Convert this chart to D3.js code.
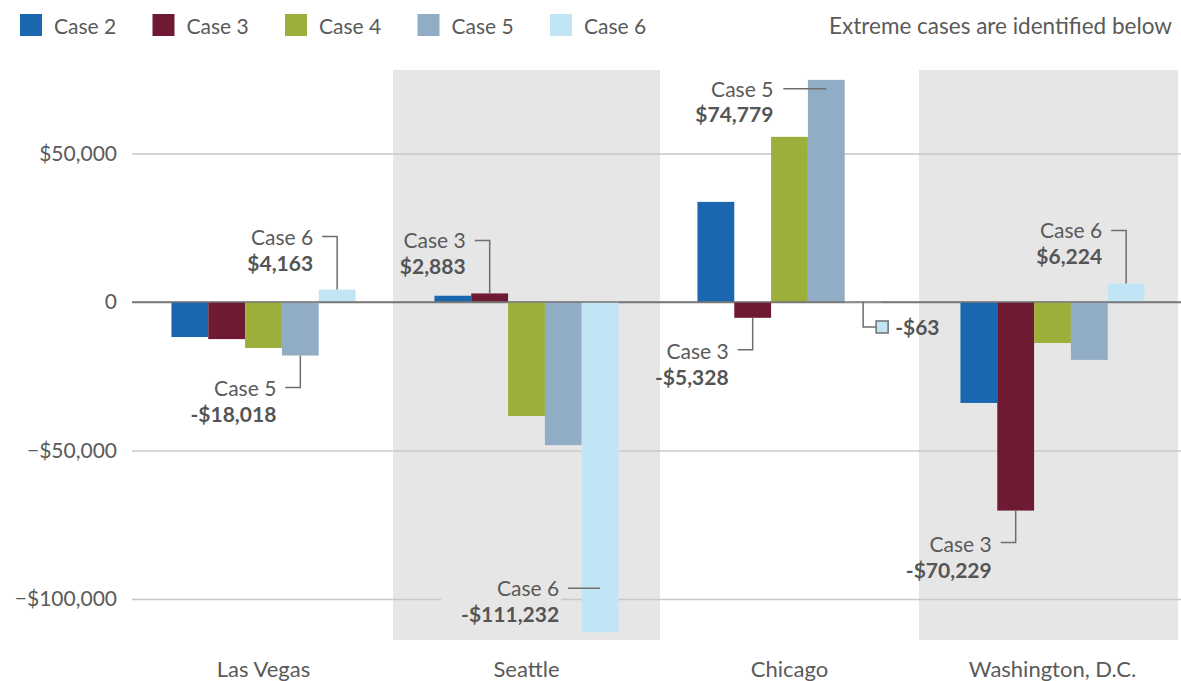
<!DOCTYPE html>
<html>
<head>
<meta charset="utf-8">
<script src="https://cdn.jsdelivr.net/npm/d3@7"></script>
<style>
  html, body { margin: 0; padding: 0; background: #fff; }
  svg { display: block; font-family: Lato, "Noto Sans", sans-serif; }
</style>
</head>
<body>
<svg id="chart" width="1181" height="681"></svg>
<script>
// ---------- data ----------
const cities = ["Las Vegas", "Seattle", "Chicago", "Washington, D.C."];
const cases = ["Case 2", "Case 3", "Case 4", "Case 5", "Case 6"];
const lasVegas   = [-11800, -12500, -15500, -18018, 4163];
const seattle    = [2100, 2883, -38400, -48200, -111232];
const chicago    = [33700, -5328, 55600, 74779, -63];
const washington = [-34000, -70229, -13800, -19500, 6224];
const seriesByCity = [lasVegas, seattle, chicago, washington];
const yTicks = [50000, 0, -50000, -100000];
const shadedCities = ["Seattle", "Washington, D.C."];
const noteText = "Extreme cases are identified below";
// annotated extreme cases: which bar, and how the callout attaches
const annotations = [
  { city: "Las Vegas", caseName: "Case 6", kind: "above" },
  { city: "Las Vegas", caseName: "Case 5", kind: "below" },
  { city: "Seattle", caseName: "Case 3", kind: "above" },
  { city: "Seattle", caseName: "Case 6", kind: "sideEnd" },
  { city: "Chicago", caseName: "Case 5", kind: "sideTop" },
  { city: "Chicago", caseName: "Case 3", kind: "below" },
  { city: "Chicago", caseName: "Case 6", kind: "swatch" },
  { city: "Washington, D.C.", caseName: "Case 3", kind: "below" },
  { city: "Washington, D.C.", caseName: "Case 6", kind: "above" }
];

// ---------- styles ----------
const colors = ["#1a67b0", "#6e1a33", "#9caf3a", "#91adc5", "#c2e5f6"];
const textColor = "#5a5a5a";
const leaderColor = "#6e6e6e";
const shadeColor = "#e6e6e6";
const fontSize = 21;

const svg = d3.select("#chart");
const plotLeft = 132, plotRight = 1181, plotTop = 70, plotBottom = 640;

const x = d3.scaleBand().domain(cities).range([132, 1184]).padding(0);
const xi = d3.scaleBand().domain(cases)
  .range([x.bandwidth() * 0.15, x.bandwidth() * 0.85]).padding(0);
const y = d3.scaleLinear().domain([-113800, 78100]).range([plotBottom, plotTop]);
const color = d3.scaleOrdinal().domain(cases).range(colors);

// shaded bands
svg.append("g").selectAll("rect")
  .data(shadedCities).join("rect")
  .attr("x", d => x(d) - 2)
  .attr("width", d => Math.min(x(d) + x.bandwidth() + 2, 1178) - (x(d) - 2))
  .attr("y", plotTop)
  .attr("height", plotBottom - plotTop)
  .attr("fill", shadeColor);

// y axis + gridlines
const fmtTick = v => v === 0 ? "0" : d3.format("$,")(v);
const yAxis = svg.append("g")
  .attr("transform", `translate(${plotLeft},0)`)
  .call(d3.axisLeft(y).tickValues(yTicks).tickFormat(fmtTick)
    .tickSize(-(plotRight - plotLeft)).tickPadding(15));
yAxis.select(".domain").remove();
yAxis.selectAll(".tick line")
  .attr("stroke", d => d === 0 ? "#777" : "#c8c8c8")
  .attr("stroke-width", 1.5);
yAxis.selectAll(".tick text")
  .attr("fill", textColor)
  .style("font-size", fontSize + "px")
  .style("font-family", "Lato, 'Noto Sans', sans-serif");

// bars
const flat = [];
cities.forEach((c, ci) => cases.forEach((k, ki) =>
  flat.push({ city: c, caseName: k, value: seriesByCity[ci][ki] })));
svg.append("g").selectAll("rect")
  .data(flat).join("rect")
  .attr("x", d => x(d.city) + xi(d.caseName))
  .attr("width", xi.bandwidth())
  .attr("y", d => y(Math.max(0, d.value)))
  .attr("height", d => Math.max(1, Math.abs(y(d.value) - y(0))))
  .attr("fill", d => color(d.caseName));

// zero line on top
svg.append("line")
  .attr("x1", plotLeft).attr("x2", plotRight)
  .attr("y1", y(0)).attr("y2", y(0))
  .attr("stroke", "#777").attr("stroke-width", 1.5);

// category labels
svg.append("g").selectAll("text")
  .data(cities).join("text")
  .attr("x", d => x(d) + x.bandwidth() / 2)
  .attr("y", 677)
  .attr("text-anchor", "middle")
  .attr("fill", textColor)
  .style("font-size", "22px")
  .text(d => d);

// legend
const leg = svg.append("g").selectAll("g")
  .data(cases).join("g")
  .attr("transform", (d, i) => `translate(${20 + i * 132.5},14)`);
leg.append("rect").attr("width", 22).attr("height", 22)
  .attr("fill", d => color(d));
leg.append("text").attr("x", 34).attr("y", 20)
  .attr("fill", textColor).style("font-size", fontSize + "px").text(d => d);

svg.append("text")
  .attr("x", 1172).attr("y", 34)
  .attr("text-anchor", "end")
  .attr("fill", textColor).style("font-size", "22.5px")
  .text(noteText);

// annotations
const fmtVal = v => (v < 0 ? "-" : "") + "$" + d3.format(",")(Math.abs(v));
const ag = svg.append("g");
function label(xEnd, yCase, yVal, caseName, value, bg) {
  if (bg) {
    ag.append("rect").attr("x", xEnd - 118).attr("y", yCase - 14)
      .attr("width", 120).attr("height", yVal - yCase + 16).attr("fill", bg);
  }
  ag.append("text").attr("x", xEnd).attr("y", yCase).attr("text-anchor", "end")
    .attr("fill", textColor).style("font-size", fontSize + "px").text(caseName);
  ag.append("text").attr("x", xEnd).attr("y", yVal).attr("text-anchor", "end")
    .attr("fill", "#555").style("font-size", fontSize + "px")
    .style("font-weight", "bold").text(fmtVal(value));
}
function path(pts) {
  ag.append("path").attr("d", d3.line()(pts)).attr("fill", "none")
    .attr("stroke", leaderColor).attr("stroke-width", 1.5);
}
annotations.forEach(a => {
  const ci = cities.indexOf(a.city), ki = cases.indexOf(a.caseName);
  const v = seriesByCity[ci][ki];
  const cx = x(a.city) + xi(a.caseName) + xi.bandwidth() / 2;
  const yv = y(v);
  if (a.kind === "above") {
    const ey = yv - 53;
    path([[cx - 15, ey], [cx, ey], [cx, yv]]);
    label(cx - 24, ey + 8, ey + 34, a.caseName, v);
  } else if (a.kind === "below") {
    const ey = yv + 32;
    path([[cx - 15, ey], [cx, ey], [cx, yv]]);
    label(cx - 24, ey + 9, ey + 35, a.caseName, v);
  } else if (a.kind === "sideTop") {
    const ey = yv + 9;
    path([[cx - 43, ey], [cx, ey]]);
    label(cx - 53, ey + 8, ey + 33, a.caseName, v);
  } else if (a.kind === "sideEnd") {
    const ey = yv - 44;
    label(cx - 41, ey + 8, ey + 34, a.caseName, v, shadeColor);
    path([[cx - 32, ey], [cx, ey]]);
  } else if (a.kind === "swatch") {
    const ey = y(0) + 25;
    path([[cx, y(0)], [cx, ey], [cx + 13, ey]]);
    ag.append("rect").attr("x", cx + 13).attr("y", ey - 6)
      .attr("width", 12).attr("height", 12)
      .attr("fill", color(a.caseName)).attr("stroke", leaderColor).attr("stroke-width", 1.5);
    ag.append("text").attr("x", cx + 32).attr("y", ey + 8)
      .attr("fill", "#555").style("font-size", fontSize + "px")
      .style("font-weight", "bold").text(fmtVal(v));
  }
});
</script>
</body>
</html>
